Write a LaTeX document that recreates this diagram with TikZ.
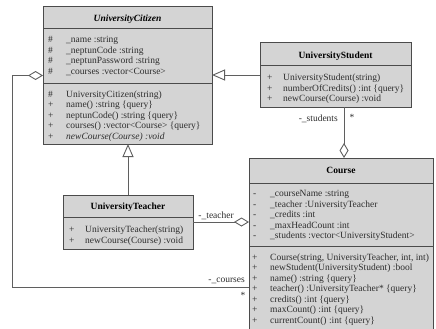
\documentclass[tikz,border=0pt]{standalone}
\usepackage{fontspec}
\setmainfont{Liberation Serif}
\usetikzlibrary{arrows.meta}
\definecolor{boxfill}{RGB}{212,212,212}
\definecolor{boxline}{RGB}{75,75,75}
\definecolor{conn}{RGB}{95,95,95}
\definecolor{txt}{RGB}{45,45,45}
\tikzset{
  classbox/.style={draw=boxline, fill=boxfill, line width=1pt, anchor=north west, inner sep=0, outer sep=0},
  sepline/.style={draw=boxline, line width=0.8pt},
  member/.style={anchor=west, inner sep=0, text height=6.5pt, text depth=0pt, text=txt},
  vis/.style={member},
  title/.style={inner sep=0, text height=6.5pt, text depth=0pt, text=black, font=\fontsize{9.5}{11}\selectfont\bfseries},
  lbl/.style={inner sep=0, text height=6.5pt, text depth=0pt, text=txt},
  conline/.style={draw=conn, line width=0.9pt},
  agg/.style={conline, -{Diamond[open, length=15pt, width=9pt]}},
  inh/.style={conline, -{Triangle[open, length=13pt, width=11pt]}},
}
\begin{document}
\begin{tikzpicture}[x=1pt, y=-1pt, font=\fontsize{9.5}{11}\selectfont]
\useasboundingbox[fill=white] (0,0) rectangle (436,329);

% ---------- UniversityCitizen ----------
\node[classbox, minimum width=169pt, minimum height=137pt] (cit) at (43,7) {};
\draw[sepline] (43,28) -- (212,28);
\draw[sepline] (43,83) -- (212,83);
\node[title, font=\fontsize{9.5}{11}\selectfont\bfseries\itshape] (citT) at (127.5,18) {UniversityCitizen};
\node[vis] (cv1) at (48,39.5) {\#};
\node[member] (ca1) at (66,39.5) {\_name :string};
\node[vis] (cv2) at (48,50) {\#};
\node[member] (ca2) at (66,50) {\_neptunCode :string};
\node[vis] (cv3) at (48,60.5) {\#};
\node[member] (ca3) at (66,60.5) {\_neptunPassword :string};
\node[vis] (cv4) at (48,71) {\#};
\node[member] (ca4) at (66,71) {\_courses :vector<Course>};
\node[vis] (cv5) at (48,94) {\#};
\node[member] (cm1) at (66,94) {UniversityCitizen(string)};
\node[vis] (cv6) at (48,104.5) {+};
\node[member] (cm2) at (66,104.5) {name() :string \{query\}};
\node[vis] (cv7) at (48,115) {+};
\node[member] (cm3) at (66,115) {neptunCode() :string \{query\}};
\node[vis] (cv8) at (48,125.5) {+};
\node[member] (cm4) at (66,125.5) {courses() :vector<Course> \{query\}};
\node[vis] (cv9) at (48,136) {+};
\node[member] (cm5) at (66,136) {\itshape newCourse(Course) :void};

% ---------- UniversityStudent ----------
\node[classbox, minimum width=151pt, minimum height=64pt] (stu) at (260,43) {};
\draw[sepline] (260,65) -- (411,65);
\node[title] (stuT) at (335.5,55) {UniversityStudent};
\node[vis] (sv1) at (267,77.5) {+};
\node[member] (sm1) at (283,77.5) {UniversityStudent(string)};
\node[vis] (sv2) at (267,88) {+};
\node[member] (sm2) at (283,88) {numberOfCredits() :int \{query\}};
\node[vis] (sv3) at (267,98.5) {+};
\node[member] (sm3) at (283,98.5) {newCourse(Course) :void};

% ---------- UniversityTeacher ----------
\node[classbox, minimum width=130pt, minimum height=54pt] (tch) at (63,195) {};
\draw[sepline] (63,217) -- (193,217);
\node[title] (tchT) at (128,206.5) {UniversityTeacher};
\node[vis] (tv1) at (69,229) {+};
\node[member] (tm1) at (85,229) {UniversityTeacher(string)};
\node[vis] (tv2) at (69,240) {+};
\node[member] (tm2) at (85,240) {newCourse(Course) :void};

% ---------- Course ----------
\node[classbox, minimum width=184pt, minimum height=176pt] (crs) at (249,158) {};
\draw[sepline] (249,183) -- (433,183);
\draw[sepline] (249,246) -- (433,246);
\node[title] (crsT) at (341,170.5) {Course};
\node[vis] (kv1) at (253,193.5) {-};
\node[member] (ka1) at (270,193.5) {\_courseName :string};
\node[vis] (kv2) at (253,204) {-};
\node[member] (ka2) at (270,204) {\_teacher :UniversityTeacher};
\node[vis] (kv3) at (253,214.5) {-};
\node[member] (ka3) at (270,214.5) {\_credits :int};
\node[vis] (kv4) at (253,225) {-};
\node[member] (ka4) at (270,225) {\_maxHeadCount :int};
\node[vis] (kv5) at (253,235.5) {-};
\node[member] (ka5) at (270,235.5) {\_students :vector<UniversityStudent>};
\node[vis] (kv6) at (252,257) {+};
\node[member] (km1) at (270,257) {Course(string, UniversityTeacher, int, int)};
\node[vis] (kv7) at (252,267.5) {+};
\node[member] (km2) at (270,267.5) {newStudent(UniversityStudent) :bool};
\node[vis] (kv8) at (252,278) {+};
\node[member] (km3) at (270,278) {name() :string \{query\}};
\node[vis] (kv9) at (252,288.5) {+};
\node[member] (km4) at (270,288.5) {teacher() :UniversityTeacher* \{query\}};
\node[vis] (kv10) at (252,299) {+};
\node[member] (km5) at (270,299) {credits() :int \{query\}};
\node[vis] (kv11) at (252,309.5) {+};
\node[member] (km6) at (270,309.5) {maxCount() :int \{query\}};
\node[vis] (kv12) at (252,320) {+};
\node[member] (km7) at (270,320) {currentCount() :int \{query\}};

% ---------- connectors ----------
\coordinate (bendTop) at (12,75.5);
\coordinate (bendBot) at (12,287);
\coordinate (crsIn) at (249,287);
\draw[agg] (crsIn) -- (bendBot) -- (bendTop) -- (cit.west);
\node[lbl, anchor=east] (coursesL) at (245,279) {-\_courses};
\node[lbl] (coursesM) at (243,295) {*};

\draw[inh] (stu.west) -- (stu.west -| cit.east);

\coordinate (scol) at (344,0);
\draw[agg] (stu.south -| scol) -- (crs.north -| scol);
\node[lbl, anchor=east] (studentsL) at (338,118) {-\_students};
\node[lbl] (studentsM) at (352,117.5) {*};

\draw[agg] (tch.east) -- (tch.east -| crs.west);
\node[lbl, anchor=east] (teacherL) at (234,215) {-\_teacher};

\draw[inh] (tch.north) -- (tch.north |- cit.south);
\end{tikzpicture}
\end{document}
